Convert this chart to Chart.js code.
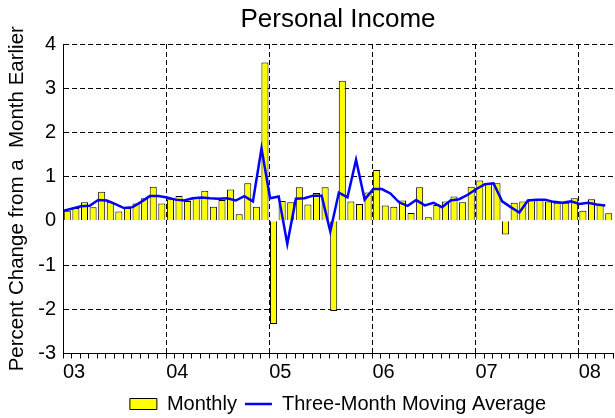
<!DOCTYPE html>
<html>
<head>
<meta charset="utf-8">
<script src="https://cdn.jsdelivr.net/npm/chart.js@4.4.1/dist/chart.umd.min.js"></script>
<style>
  html, body { margin: 0; padding: 0; background: #fff; }
  #wrap { width: 615px; height: 418px; }
</style>
</head>
<body>
<div id="wrap"><canvas id="incomeChart" width="615" height="418"></canvas></div>
<script>
// 数据
const yearLabels = ["03", "04", "05", "06", "07", "08"];
const yTicks = [-3, -2, -1, 0, 1, 2, 3, 4];

// 月度变化 (2003-01 ~ 2008-04)
const monthly = [
    0.23, 0.29, 0.42, 0.31, 0.66, 0.43, 0.21, 0.29, 0.39, 0.51, 0.77, 0.39,
    0.49, 0.56, 0.45, 0.52, 0.68, 0.32, 0.47, 0.71, 0.15, 0.85, 0.32, 3.58,
    -2.33, 0.45, 0.42, 0.76, 0.37, 0.63, 0.76, -2.04, 3.17, 0.44, 0.38, 0.64,
    1.15, 0.35, 0.32, 0.46, 0.18, 0.76, 0.08, 0.36, 0.44, 0.55, 0.42, 0.77,
    0.91, 0.85, 0.85, -0.31, 0.41, 0.44, 0.49, 0.49, 0.44, 0.41, 0.41, 0.51,
    0.23, 0.49, 0.38, 0.17
];

// 三个月移动平均
const movingAvg = [
    0.23, 0.28, 0.33, 0.34, 0.47, 0.46, 0.38, 0.29, 0.31, 0.43, 0.56, 0.56,
    0.53, 0.48, 0.46, 0.51, 0.53, 0.51, 0.50, 0.51, 0.46, 0.56, 0.44, 1.64,
    0.51, 0.55, -0.52, 0.50, 0.51, 0.57, 0.57, -0.24, 0.64, 0.53, 1.38, 0.48,
    0.72, 0.72, 0.62, 0.42, 0.34, 0.47, 0.35, 0.41, 0.31, 0.46, 0.49, 0.59,
    0.72, 0.83, 0.85, 0.44, 0.31, 0.19, 0.46, 0.48, 0.48, 0.43, 0.41, 0.44,
    0.38, 0.41, 0.37, 0.35
];

const FONT = "'Liberation Sans', Arial, sans-serif";
const monthCount = yearLabels.length * 12 - 8; // 64 months

// legend 往下挪一点
const legendShift = {
    id: "legendShift",
    afterLayout(chart) {
        chart.legend.top += 6;
        chart.legend.bottom += 6;
    }
};

const ctx = document.getElementById("incomeChart").getContext("2d");
const incomeChart = new Chart(ctx, {
    type: "bar",
    data: {
        datasets: [{
            label: "Monthly",
            data: monthly.map((v, i) => ({ x: i + 0.5, y: v })),
            backgroundColor: "#ffff00",
            borderColor: "#000000",
            borderWidth: 1,
            categoryPercentage: 1,
            barPercentage: 0.82,
            order: 1,
        }, {
            type: "line",
            label: "Three-Month Moving Average",
            data: movingAvg.map((v, i) => ({ x: i + 0.1, y: v })),
            borderColor: "#0000ff",
            backgroundColor: "#0000ff",
            borderWidth: 2.5,
            pointRadius: 0,
            tension: 0,
            order: 0,
        }],
    },
    options: {
        responsive: false,
        animation: false,
        layout: { padding: 0 },
        scales: {
            x: {
                type: "linear",
                min: 0,
                max: monthCount,
                offset: false,
                afterFit: (s) => { s.height = 26.5; },
                ticks: {
                    stepSize: 1,
                    autoSkip: false,
                    maxRotation: 0,
                    align: "start",
                    padding: 2,
                    color: "#000",
                    font: { family: FONT, size: 20 },
                    callback: (v) => (v % 12 === 0 && v / 12 < yearLabels.length ? yearLabels[v / 12] : ""),
                },
                grid: {
                    offset: false,
                    color: (c) => (c.tick && c.tick.value % 12 === 0 && c.tick.value > 0 && c.tick.value < monthCount ? "#000" : "rgba(0,0,0,0)"),
                    lineWidth: 1,
                    tickLength: 5,
                    tickColor: "#000",
                    tickBorderDash: [],
                },
                border: { display: true, color: "#000", width: 1, dash: [5, 3] },
            },
            y: {
                min: yTicks[0],
                max: yTicks[yTicks.length - 1],
                afterFit: (s) => { s.width = 63; },
                ticks: {
                    stepSize: 1,
                    padding: 7,
                    color: "#000",
                    font: { family: FONT, size: 20 },
                },
                grid: {
                    drawTicks: false,
                    color: (c) => (c.tick && (c.tick.value === 0 || c.tick.value === yTicks[0]) ? "rgba(0,0,0,0)" : "#000"),
                    lineWidth: 1,
                },
                border: { display: true, color: "#000", width: 1, dash: [5, 3] },
                title: {
                    display: true,
                    text: "Percent Change from a  Month Earlier",
                    color: "#000",
                    font: { family: FONT, size: 20.5 },
                    padding: { top: 5, bottom: 0 },
                },
            },
        },
        plugins: {
            title: {
                display: true,
                text: "Personal Income",
                color: "#000",
                fullSize: false,
                font: { family: FONT, size: 26, weight: "normal" },
                padding: { top: 4, bottom: 8.8 },
            },
            legend: {
                position: "bottom",
                fullSize: false,
                labels: {
                    usePointStyle: true,
                    pointStyleWidth: 27,
                    boxHeight: 11,
                    padding: 8,
                    color: "#000",
                    font: { family: FONT, size: 20 },
                    generateLabels: (chart) => chart.data.datasets.map((ds, i) => ({
                        text: ds.label,
                        fillStyle: ds.backgroundColor,
                        strokeStyle: ds.borderColor,
                        lineWidth: i === 0 ? 1 : 2.5,
                        pointStyle: i === 0 ? "rect" : "line",
                        datasetIndex: i,
                        hidden: false,
                    })),
                },
            },
            tooltip: { enabled: false },
        },
    },
    plugins: [legendShift],
});
</script>
</body>
</html>
